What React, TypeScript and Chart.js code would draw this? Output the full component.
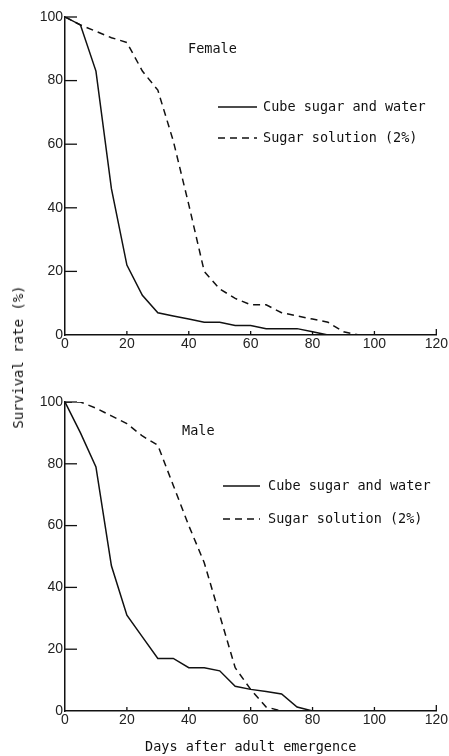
import React, { useEffect, useRef } from "react";
import { Chart, registerables } from "chart.js";

Chart.register(...registerables);

// ---- data ----
const xTickValues = [0, 20, 40, 60, 80, 100, 120];
const yTickValues = [0, 20, 40, 60, 80, 100];

const seriesLabels = ["Cube sugar and water", "Sugar solution (2%)"];
const panelTitles = ["Female", "Male"];
const xAxisTitle = "Days after adult emergence";
const yAxisTitle = "Survival rate (%)";

const femaleCubeDays = [0, 5, 10, 15, 20, 25, 30, 35, 40, 45, 50, 55, 60, 65, 70, 75, 80, 85];
const femaleCube = [100, 97.5, 83, 46, 22, 12.5, 7, 6, 5, 4, 4, 3, 3, 2, 2, 2, 1, 0];

const femaleSugarDays = [0, 5, 10, 15, 20, 25, 30, 35, 40, 45, 50, 55, 60, 65, 70, 75, 80, 85, 90, 95];
const femaleSugar = [100, 97.5, 95.5, 93.5, 92, 83, 77, 61, 41, 20, 14.5, 11.5, 9.5, 9.5, 7, 6, 5, 4, 1, 0];

const maleCubeDays = [0, 5, 10, 15, 20, 25, 30, 35, 40, 45, 50, 55, 60, 65, 70, 75, 80];
const maleCube = [100, 90, 79, 47, 31, 24, 17, 17, 14, 14, 13, 8, 7, 6.3, 5.5, 1.3, 0];

const maleSugarDays = [0, 5, 10, 15, 20, 25, 30, 35, 40, 45, 50, 55, 60, 65, 70];
const maleSugar = [100, 100, 98, 95.5, 93, 89, 86, 73, 60, 48, 31, 14, 7, 1.3, 0];

const toPoints = (xs: number[], ys: number[]) => xs.map((x, i) => ({ x, y: ys[i] }));

const MONO = '"DejaVu Sans Mono", "Liberation Mono", monospace';
const SANS = '"Liberation Sans", Arial, sans-serif';

type PanelProps = {
  top: number;
  height: number;
  padTop: number;
  xAxisHeight: number;
  showXTitle: boolean;
  title: string;
  titlePos: [number, number];
  legendLineX: [number, number];
  legendTextX: number;
  legendY: [number, number];
  cube: { x: number; y: number }[];
  sugar: { x: number; y: number }[];
};

function Panel(p: PanelProps) {
  const ref = useRef<HTMLCanvasElement | null>(null);
  useEffect(() => {
    if (!ref.current) return;
    const deco = {
      id: "deco",
      afterDraw(chart: any) {
        const ctx = chart.ctx;
        const { left, bottom } = chart.chartArea;
        const xs = chart.scales.x;
        const ys = chart.scales.y;
        ctx.save();
        ctx.strokeStyle = "#111";
        ctx.lineWidth = 1.3;
        ctx.setLineDash([]);
        yTickValues.forEach((v) => {
          if (v === 0) return;
          const y = ys.getPixelForValue(v);
          ctx.beginPath();
          ctx.moveTo(left, y);
          ctx.lineTo(left + 12, y);
          ctx.stroke();
        });
        xTickValues.forEach((v) => {
          if (v === 0) return;
          const x = xs.getPixelForValue(v);
          ctx.beginPath();
          ctx.moveTo(x, bottom);
          ctx.lineTo(x, bottom - (v === 120 ? 6 : 4));
          ctx.stroke();
        });
        ctx.fillStyle = "#111";
        ctx.font = `13.5px ${MONO}`;
        ctx.textBaseline = "middle";
        ctx.textAlign = "left";
        ctx.fillText(p.title, p.titlePos[0], p.titlePos[1]);
        // legend
        ctx.lineWidth = 1.3;
        ctx.beginPath();
        ctx.moveTo(p.legendLineX[0], p.legendY[0]);
        ctx.lineTo(p.legendLineX[1], p.legendY[0]);
        ctx.stroke();
        ctx.setLineDash([7, 5]);
        ctx.beginPath();
        ctx.moveTo(p.legendLineX[0], p.legendY[1]);
        ctx.lineTo(p.legendLineX[1], p.legendY[1]);
        ctx.stroke();
        ctx.setLineDash([]);
        ctx.fillText(seriesLabels[0], p.legendTextX, p.legendY[0]);
        ctx.fillText(seriesLabels[1], p.legendTextX, p.legendY[1]);
        ctx.restore();
      },
    };
    const chart = new Chart(ref.current, {
      type: "line",
      data: {
        datasets: [
          {
            label: seriesLabels[0],
            data: p.cube,
            borderColor: "#111",
            borderWidth: 1.5,
            pointRadius: 0,
            tension: 0,
            fill: false,
          },
          {
            label: seriesLabels[1],
            data: p.sugar,
            borderColor: "#111",
            borderWidth: 1.5,
            borderDash: [7, 5],
            pointRadius: 0,
            tension: 0,
            fill: false,
          },
        ],
      },
      options: {
        animation: false,
        responsive: false,
        devicePixelRatio: 1,
        layout: { padding: { top: p.padTop, right: 11, left: 0, bottom: 0 } },
        plugins: { legend: { display: false }, tooltip: { enabled: false } },
        scales: {
          x: {
            type: "linear",
            min: 0,
            max: 120,
            afterBuildTicks(scale: any) {
              scale.ticks = xTickValues.map((v) => ({ value: v }));
            },
            afterFit(scale: any) {
              scale.height = p.xAxisHeight;
            },
            grid: { display: true, drawOnChartArea: false, drawTicks: false },
            border: { display: true, color: "#111", width: 1.5 },
            ticks: { color: "#222", font: { family: SANS, size: 14 }, padding: 1, maxRotation: 0 },
            title: {
              display: p.showXTitle,
              text: xAxisTitle,
              color: "#111",
              font: { family: MONO, size: 13.5 },
              padding: { top: 0, bottom: 0 },
            },
          },
          y: {
            type: "linear",
            min: 0,
            max: 100,
            afterBuildTicks(scale: any) {
              scale.ticks = yTickValues.map((v) => ({ value: v }));
            },
            afterFit(scale: any) {
              scale.width = 65;
            },
            grid: { display: true, drawOnChartArea: false, drawTicks: false },
            border: { display: true, color: "#111", width: 1.5 },
            ticks: { color: "#222", font: { family: SANS, size: 14 }, padding: 2 },
          },
        },
      },
      plugins: [deco],
    } as any);
    return () => chart.destroy();
  }, []);
  return (
    <canvas
      ref={ref}
      width={449}
      height={p.height}
      style={{ position: "absolute", left: 0, top: p.top, width: 449, height: p.height }}
    />
  );
}

export default function App() {
  return (
    <div style={{ position: "absolute", left: 0, top: 0, width: 449, height: 756, background: "#fff" }}>
      <Panel
        top={0}
        height={360}
        padTop={17}
        xAxisHeight={25}
        showXTitle={false}
        title={panelTitles[0]}
        titlePos={[188, 49]}
        legendLineX={[218, 257]}
        legendTextX={263}
        legendY={[107, 138]}
        cube={toPoints(femaleCubeDays, femaleCube)}
        sugar={toPoints(femaleSugarDays, femaleSugar)}
      />
      <Panel
        top={370}
        height={386}
        padTop={32}
        xAxisHeight={45}
        showXTitle={true}
        title={panelTitles[1]}
        titlePos={[182, 61]}
        legendLineX={[223, 260]}
        legendTextX={268}
        legendY={[116, 149]}
        cube={toPoints(maleCubeDays, maleCube)}
        sugar={toPoints(maleSugarDays, maleSugar)}
      />
      <div
        style={{
          position: "absolute",
          left: 18,
          top: 357,
          transform: "translate(-50%, -50%) rotate(-90deg)",
          whiteSpace: "nowrap",
          fontFamily: MONO,
          fontSize: 14,
          color: "#111",
          lineHeight: 1,
        }}
      >
        {yAxisTitle}
      </div>
    </div>
  );
}
